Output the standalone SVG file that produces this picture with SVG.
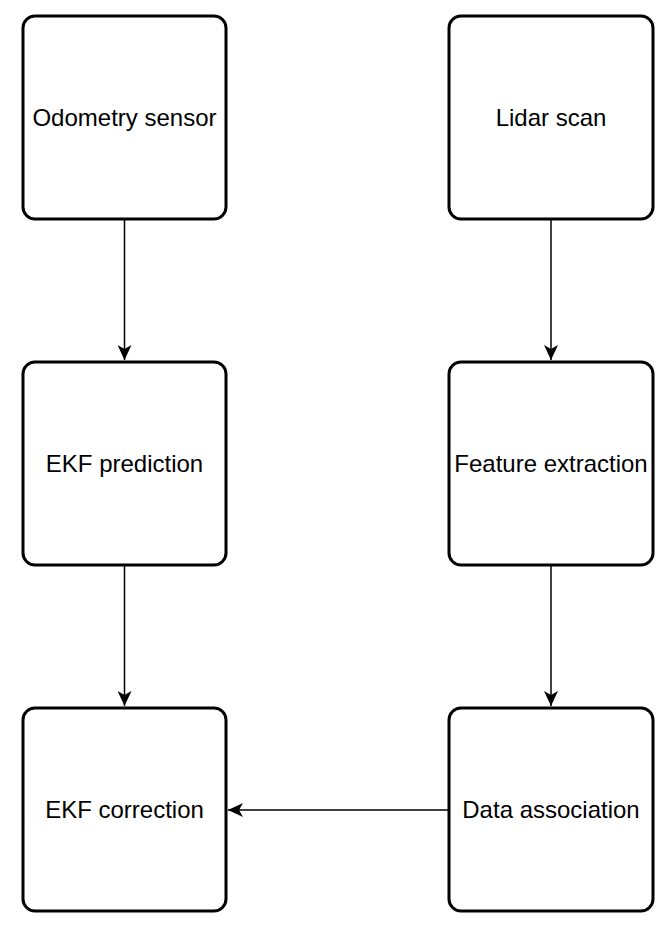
<svg xmlns="http://www.w3.org/2000/svg" width="666" height="929" viewBox="0 0 666 929">
<style>
.box{fill:#fff;stroke:#000;stroke-width:3}
.lbl{font-family:"Liberation Sans",Arial,sans-serif;font-size:24px;fill:#000;text-anchor:middle;dominant-baseline:central}
.edge{stroke:#000;stroke-width:1.5;fill:none}
</style>
<defs>
<marker id="ah" markerWidth="16" markerHeight="14" refX="15" refY="7" orient="auto" markerUnits="userSpaceOnUse">
<path d="M0,0 L15,7 L0,14 L4,7 Z" fill="#000"/>
</marker>
</defs>
<rect width="666" height="929" fill="#fff"/>
<g id="connectors">
<line class="edge" x1="124.5" y1="220" x2="124.5" y2="360" marker-end="url(#ah)"/>
<line class="edge" x1="124.5" y1="566" x2="124.5" y2="706" marker-end="url(#ah)"/>
<line class="edge" x1="551" y1="220" x2="551" y2="360" marker-end="url(#ah)"/>
<line class="edge" x1="551" y1="566" x2="551" y2="706" marker-end="url(#ah)"/>
<line class="edge" x1="449" y1="810" x2="228" y2="810" marker-end="url(#ah)"/>
</g>
<g id="odometry"><rect class="box" x="23" y="16" width="203" height="203" rx="12"/><text class="lbl" x="124.5" y="117">Odometry sensor</text></g>
<g id="lidar"><rect class="box" x="449" y="16" width="204" height="203" rx="12"/><text class="lbl" x="551" y="117">Lidar scan</text></g>
<g id="ekf-pred"><rect class="box" x="23" y="362" width="203" height="203" rx="12"/><text class="lbl" x="124.5" y="463">EKF prediction</text></g>
<g id="feature"><rect class="box" x="449" y="362" width="204" height="203" rx="12"/><text class="lbl" x="551" y="463">Feature extraction</text></g>
<g id="ekf-corr"><rect class="box" x="23" y="708" width="203" height="203" rx="12"/><text class="lbl" x="124.5" y="809">EKF correction</text></g>
<g id="data-assoc"><rect class="box" x="449" y="708" width="204" height="203" rx="12"/><text class="lbl" x="551" y="809">Data association</text></g>
</svg>
